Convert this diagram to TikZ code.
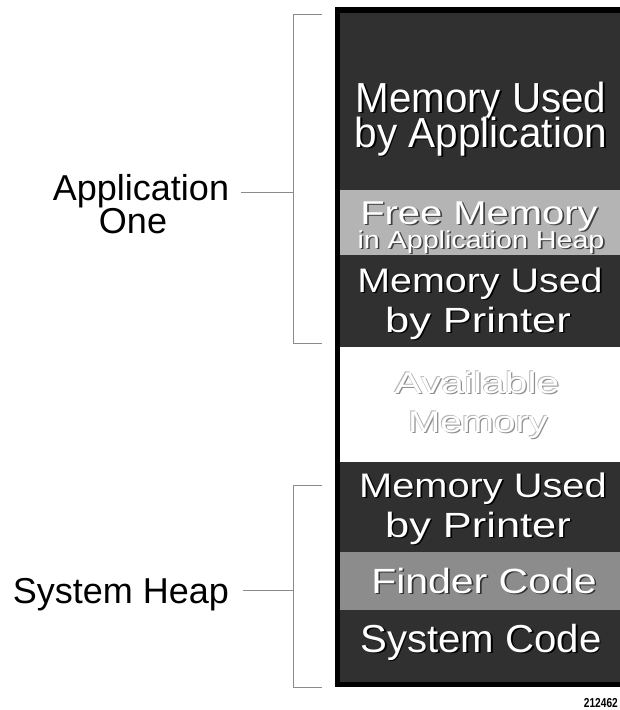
\documentclass[tikz,border=0pt]{standalone}
\usepackage{fontspec}
\setmainfont{Liberation Sans}
\usepackage{graphicx}
\definecolor{darkband}{HTML}{303030}
\definecolor{lightband}{HTML}{B4B4B4}
\definecolor{midband}{HTML}{8C8C8C}
\definecolor{bracketgray}{HTML}{8A8A8A}
\definecolor{outlinegray}{HTML}{8F8F8F}
\definecolor{outlinelight}{HTML}{B8B8B8}
% size, xscale, text, shadow colour
\newcommand{\shtext}[4]{%
  \fontsize{#1}{#1}\selectfont
  \rlap{\hspace{1.6pt}\raisebox{-1.6pt}{\textcolor{#4}{\scalebox{#2}[1]{#3}}}}%
  \textcolor{white}{\scalebox{#2}[1]{#3}}}
% size, xscale, text
\newcommand{\oltext}[3]{%
  \fontsize{#1}{#1}\selectfont
  \rlap{\hspace{1.2pt}\raisebox{-1.2pt}{\textcolor{outlinegray}{\scalebox{#2}[1]{#3}}}}%
  \rlap{\hspace{-0.9pt}\raisebox{0.6pt}{\textcolor{outlinelight}{\scalebox{#2}[1]{#3}}}}%
  \textcolor{white}{\scalebox{#2}[1]{#3}}}
\begin{document}
\begin{tikzpicture}[x=1pt,y=-1pt,
  bandtxt/.style={inner sep=0pt, anchor=base},
  labeltxt/.style={inner sep=0pt, anchor=base, text=black, font=\fontsize{36}{36}\selectfont},
  bracketline/.style={draw=bracketgray, line width=0.8pt}]
\useasboundingbox (0,0) rectangle (620,710);
\fill[white] (0,0) rectangle (620,710);
% column
\fill[black] (335,7) rectangle (620,687);
\fill[darkband] (340,13) rectangle (620,190);
\fill[lightband] (340,190) rectangle (620,255);
\fill[darkband] (340,255) rectangle (620,347);
\fill[white] (340,347) rectangle (620,462);
\fill[darkband] (340,462) rectangle (620,552);
\fill[midband] (340,552) rectangle (620,610);
\fill[darkband] (340,610) rectangle (620,682);
% band texts
\node[bandtxt] (ta) at (481,112) {\shtext{42}{0.96}{Memory Used}{black}};
\node[bandtxt] (tb) at (481,147) {\shtext{42}{0.965}{by Application}{black}};
\node[bandtxt] (tc) at (479,224) {\shtext{33}{1.21}{Free Memory}{black!75}};
\node[bandtxt] (td) at (481,248) {\shtext{24.5}{1.17}{in Application Heap}{black!75}};
\node[bandtxt] (te) at (480,292) {\shtext{34}{1.16}{Memory Used}{black}};
\node[bandtxt] (tf) at (478,332) {\shtext{35}{1.24}{by Printer}{black}};
\node[bandtxt] (tg) at (477,393) {\oltext{30}{1.36}{Available}};
\node[bandtxt] (th) at (478,432) {\oltext{30}{1.29}{Memory}};
\node[bandtxt] (ti) at (483,497) {\shtext{34}{1.17}{Memory Used}{black}};
\node[bandtxt] (tj) at (478,537) {\shtext{35}{1.24}{by Printer}{black}};
\node[bandtxt] (tk) at (484,593) {\shtext{35}{1.17}{Finder Code}{black!80}};
\node[bandtxt] (tl) at (481,652) {\shtext{39}{1.03}{System Code}{black}};
% left labels
\node[labeltxt] (app1) at (141,200) {Application};
\node[labeltxt] (app2) at (133,233) {One};
\node[labeltxt] (sys) at (121,603) {System Heap};
% brackets
\coordinate (b1t) at (293,14);
\coordinate (b1b) at (293,343);
\coordinate (b1m) at (293,192);
\coordinate (b2t) at (293,485);
\coordinate (b2b) at (293,687);
\coordinate (b2m) at (293,590);
\draw[bracketline] ([xshift=29pt]b1t) -- (b1t) -- (b1b) -- ([xshift=29pt]b1b);
\draw[bracketline] ([xshift=29pt]b2t) -- (b2t) -- (b2b) -- ([xshift=29pt]b2b);
\draw[bracketline] ([xshift=12pt]app1.east |- b1m) -- (b1m);
\draw[bracketline] ([xshift=14pt]sys.east |- b2m) -- (b2m);
% figure number
\node[inner sep=0pt, anchor=base east, font=\fontsize{13}{13}\selectfont\bfseries] (fignum) at (618,707) {\scalebox{0.78}[1]{212462}};
\end{tikzpicture}
\end{document}
